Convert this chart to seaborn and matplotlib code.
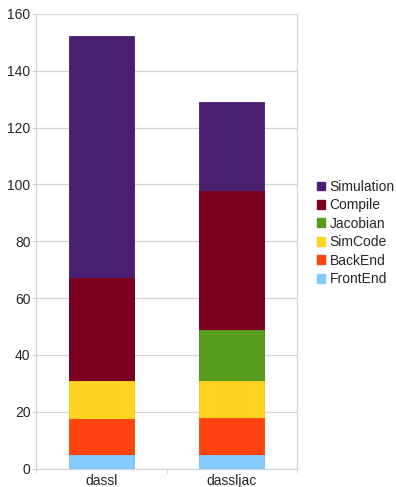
import matplotlib
matplotlib.use("Agg")
import matplotlib.pyplot as plt
from matplotlib.patches import Patch
import numpy as np
import pandas as pd
import seaborn as sns

# Build times per phase (seconds) for each solver configuration
runs = ["dassl", "dassljac"]
frontend = [4.7, 4.7]
backend = [12.9, 13.0]
simcode = [13.4, 13.3]
jacobian = [0.0, 17.9]
compile_ = [36.1, 48.8]
simulation = [85.0, 31.2]

phases = ["FrontEnd", "BackEnd", "SimCode", "Jacobian", "Compile", "Simulation"]
series = [frontend, backend, simcode, jacobian, compile_, simulation]
colors = {
    "FrontEnd": "#83caff",
    "BackEnd": "#ff420e",
    "SimCode": "#ffd320",
    "Jacobian": "#579d1c",
    "Compile": "#7e0021",
    "Simulation": "#4b1f6f",
}
grid_color = "#d4d4d4"

sns.set_style("white")
plt.rcParams["font.family"] = ["Liberation Sans", "DejaVu Sans"]

fig = plt.figure(figsize=(3.96, 4.87), dpi=100)
ax = fig.add_axes([36 / 396, 18.4 / 487, (297 - 36) / 396, (468.6 - 14) / 487])

# Stacked bars: draw cumulative totals from the top segment down
cum = np.cumsum(np.array(series), axis=0)
df = pd.DataFrame(cum.T, columns=phases)
df["run"] = runs
for i in range(len(phases) - 1, -1, -1):
    p = phases[i]
    sns.barplot(data=df, x="run", y=p, color=colors[p], width=0.5,
                saturation=1, ax=ax, edgecolor=colors[p], linewidth=0.6,
                zorder=3)

ax.set_ylim(0, 160)
ax.set_xlim(-0.5, 1.5)
ax.set_yticks(range(0, 161, 20))
ax.set_xlabel("")
ax.set_ylabel("")
ax.yaxis.grid(True, color=grid_color, linewidth=0.9, zorder=0)
ax.set_axisbelow(True)
for s in ax.spines.values():
    s.set_color(grid_color)
    s.set_linewidth(0.9)
ax.spines["top"].set_visible(False)
ax.tick_params(axis="y", length=3, color=grid_color, labelsize=10, pad=1,
               left=True)
ax.tick_params(axis="x", length=0, labelsize=10, pad=4)
# small ticks on x at category boundaries
ax.set_xticks([-0.5, 0.5, 1.5], minor=True)
ax.tick_params(axis="x", which="minor", length=3, color=grid_color, bottom=True)

handles = [Patch(facecolor=colors[p], edgecolor=colors[p]) for p in reversed(phases)]
fig.legend(handles, list(reversed(phases)), loc="center left",
           bbox_to_anchor=(310 / 396, 1 - 233 / 487), frameon=False,
           fontsize=10, handlelength=0.6, handleheight=0.6,
           handletextpad=0.3, labelspacing=0.32, borderpad=0)

fig.savefig("out.png", dpi=100)
